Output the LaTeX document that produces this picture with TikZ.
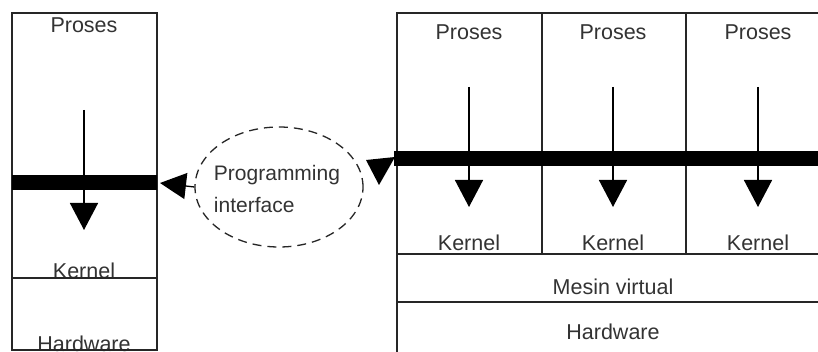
\documentclass[tikz,border=0pt]{standalone}
\usepackage{fontspec}
\setmainfont{Liberation Sans}
\usetikzlibrary{arrows.meta,shapes.geometric}
\begin{document}
\begin{tikzpicture}[x=1pt,y=-1pt,
  lbl/.style={inner sep=0pt,text=black!80,font=\fontsize{21.5}{24}\selectfont},
  box/.style={draw=black!85,line width=1.3pt},
  bar/.style={line width=15pt,black},
  flow/.style={line width=1.5pt,-{Triangle[width=28pt,length=27pt]}}]
\useasboundingbox (0,0) rectangle (818,352);
\clip (0,0) rectangle (818,352);
\fill[white] (0,0) rectangle (818,352);
% left box
\draw[box] (12,13) rectangle (157,350);
\node[lbl] (lp) at (84,25) {Proses};
\node[lbl] (lk) at (84,271) {Kernel};
\node[lbl] (lh) at (84,344) {Hardware};
\draw[box] (12,350) -- (157,350);
\draw[box] (12,278) -- (157,278);
\coordinate (la0) at (84,110);
\coordinate (la1) at (84,230);
\draw[flow] (la0) -- (la1);
\draw[bar] (12,182.5) -- (157,182.5);
% right box
\draw[box] (397,13) rectangle (840,370);
\draw[box] (397,254) -- (840,254);
\draw[box] (397,302) -- (840,302);
\draw[box] (542,13) -- (542,254);
\draw[box] (686,13) -- (686,254);
\foreach \x/\n in {469/a,613/b,758/c}{
  \node[lbl] (p\n) at (\x,32) {Proses};
  \node[lbl] (k\n) at (\x,243) {Kernel};
  \coordinate (s\n) at (\x,87);
  \coordinate (t\n) at (\x,207);
  \draw[flow] (s\n) -- (t\n);
}
\node[lbl] (mv) at (613,287) {Mesin virtual};
\node[lbl] (rh) at (613,332) {Hardware};
\draw[bar] (394,158.5) -- (818,158.5);
% programming interface
\node[ellipse,draw=black!85,line width=1.3pt,dash pattern=on 9pt off 6pt,
  minimum width=168pt,minimum height=120pt,inner sep=0pt] (pi) at (279,187) {};
\node[lbl,align=left,font=\fontsize{21}{32}\selectfont] (pit) at (277,189) {Programming\\interface};
\coordinate (lt) at (160,183);
\draw[line width=1.3pt,-{Triangle[width=26pt,length=26pt]}] (pi.west) -- (lt);
\fill[black] (366,160) -- (395,157) -- (379,185) -- cycle;
\end{tikzpicture}
\end{document}
